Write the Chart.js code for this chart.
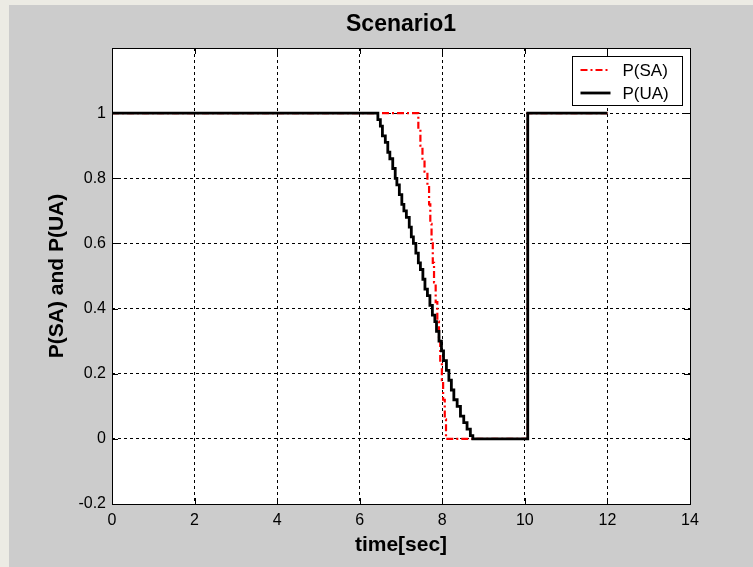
<!DOCTYPE html>
<html>
<head>
<meta charset="utf-8">
<style>
  html, body { margin: 0; padding: 0; background: #ecebe4; }
  canvas { display: block; }
</style>
<script src="https://cdn.jsdelivr.net/npm/chart.js@4/dist/chart.umd.min.js"></script>
</head>
<body>
<canvas id="c" width="753" height="567"></canvas>
<script>
// Probability of SA: held value starting at each time instant (step function)
const timeSA = [0, 7.42, 7.47, 7.52, 7.57, 7.64, 7.68, 7.71, 7.74, 7.77, 7.80, 7.84, 7.88, 7.92, 7.95, 7.99, 8.02, 8.06, 8.09, 10.07, 12.0];
const valuesSA = [1, 0.95, 0.90, 0.86, 0.82, 0.78, 0.72, 0.66, 0.60, 0.54, 0.48, 0.42, 0.36, 0.30, 0.24, 0.18, 0.12, 0.06, 0, 1, 1];

// Probability of UA
const timeUA = [0, 6.44, 6.50, 6.55, 6.62, 6.68, 6.73, 6.80, 6.86, 6.90, 6.96, 7.02, 7.07, 7.13, 7.20, 7.25, 7.30, 7.36, 7.42, 7.47, 7.53, 7.58, 7.64, 7.70, 7.76, 7.82, 7.86, 7.92, 7.98, 8.03, 8.10, 8.16, 8.22, 8.28, 8.36, 8.44, 8.52, 8.60, 8.68, 8.74, 10.07, 12.0];
const valuesUA = [1, 0.98, 0.96, 0.93, 0.91, 0.88, 0.86, 0.83, 0.80, 0.78, 0.75, 0.72, 0.70, 0.68, 0.65, 0.62, 0.60, 0.57, 0.54, 0.52, 0.49, 0.46, 0.44, 0.41, 0.38, 0.36, 0.33, 0.30, 0.27, 0.24, 0.21, 0.18, 0.15, 0.12, 0.10, 0.07, 0.05, 0.03, 0.01, 0, 1, 1];

const seriesLabels = ['P(SA)', 'P(UA)'];
const xRange = [0, 14];
const yRange = [-0.2, 1.2];

const toPoints = (xs, ys) => xs.map((x, i) => ({ x: x, y: ys[i] }));

// Figure background, white plot area
const backgroundPlugin = {
  id: 'figureBackground',
  beforeDraw(chart) {
    const ctx = chart.ctx;
    const a = chart.chartArea;
    ctx.save();
    ctx.fillStyle = '#ecebe4';
    ctx.fillRect(0, 0, chart.width, chart.height);
    ctx.fillStyle = '#cccccc';
    ctx.fillRect(9, 5, chart.width - 9, chart.height - 5);
    ctx.fillStyle = '#ffffff';
    ctx.fillRect(a.left, a.top, a.right - a.left, a.bottom - a.top);
    ctx.restore();
  }
};

// Solid axes box with inward tick marks on all four sides, plus boxed legend
const frameAndLegendPlugin = {
  id: 'frameAndLegend',
  afterDatasetsDraw(chart) {
    const ctx = chart.ctx;
    const a = chart.chartArea;
    const xs = chart.scales.x;
    const ys = chart.scales.y;
    const tl = 6;
    ctx.save();
    ctx.setLineDash([]);
    ctx.strokeStyle = '#000';
    ctx.lineWidth = 1;
    ctx.beginPath();
    xs.ticks.forEach(t => {
      const px = Math.round(xs.getPixelForValue(t.value)) + 0.5;
      ctx.moveTo(px, a.bottom); ctx.lineTo(px, a.bottom - tl);
      ctx.moveTo(px, a.top); ctx.lineTo(px, a.top + tl);
    });
    ys.ticks.forEach(t => {
      const py = Math.round(ys.getPixelForValue(t.value)) + 0.5;
      ctx.moveTo(a.left, py); ctx.lineTo(a.left + tl, py);
      ctx.moveTo(a.right, py); ctx.lineTo(a.right - tl, py);
    });
    ctx.stroke();
    ctx.strokeRect(Math.round(a.left) + 0.5, Math.round(a.top) + 0.5,
                   Math.round(a.right - a.left), Math.round(a.bottom - a.top));

    // legend
    const bw = 110, bh = 49;
    const bx = Math.round(a.right) - 8 - bw + 0.5;
    const by = Math.round(a.top) + 8 + 0.5;
    ctx.fillStyle = '#ffffff';
    ctx.fillRect(bx, by, bw, bh);
    ctx.strokeStyle = '#000';
    ctx.lineWidth = 1;
    ctx.strokeRect(bx, by, bw, bh);
    ctx.font = '17px "Liberation Sans", Arial, sans-serif';
    ctx.textBaseline = 'middle';
    ctx.textAlign = 'left';
    const order = [0, 1];
    order.forEach((di, row) => {
      const ds = chart.data.datasets[di];
      const cy = Math.round(by + 13 + row * 23);
      ctx.strokeStyle = ds.borderColor;
      ctx.lineWidth = ds.borderWidth;
      ctx.setLineDash(ds.borderDash || []);
      ctx.beginPath();
      ctx.moveTo(bx + 8, cy);
      ctx.lineTo(bx + 38, cy);
      ctx.stroke();
      ctx.setLineDash([]);
      ctx.fillStyle = '#000';
      ctx.fillText(ds.label, bx + 50, cy + 1);
    });
    ctx.restore();
  }
};

new Chart(document.getElementById('c'), {
  type: 'line',
  data: {
    datasets: [
      {
        label: seriesLabels[0],
        data: toPoints(timeSA, valuesSA),
        borderColor: '#ff0000',
        borderWidth: 2.2,
        borderDash: [7, 3, 2, 3],
        stepped: true,
        pointRadius: 0,
        fill: false,
        order: 1
      },
      {
        label: seriesLabels[1],
        data: toPoints(timeUA, valuesUA),
        borderColor: '#000000',
        borderWidth: 2.8,
        stepped: true,
        pointRadius: 0,
        fill: false,
        order: 0
      }
    ]
  },
  options: {
    responsive: false,
    animation: false,
    events: [],
    layout: { padding: { left: 0, right: 63, top: 0, bottom: 0 } },
    plugins: {
      legend: { display: false },
      tooltip: { enabled: false },
      title: {
        display: true,
        text: 'Scenario1',
        fullSize: false,
        color: '#000',
        font: { family: '"Liberation Sans", Arial, sans-serif', size: 23, weight: 'bold', lineHeight: 1.2 },
        padding: { top: 11, bottom: 9.4 }
      }
    },
    scales: {
      x: {
        type: 'linear',
        min: xRange[0],
        max: xRange[1],
        ticks: {
          stepSize: 2,
          color: '#000',
          padding: 7,
          maxRotation: 0,
          font: { family: '"Liberation Sans", Arial, sans-serif', size: 16 }
        },
        grid: { color: '#000', lineWidth: 1, drawTicks: false },
        border: { display: false, dash: [3, 3] },
        title: {
          display: true,
          text: 'time[sec]',
          color: '#000',
          font: { family: '"Liberation Sans", Arial, sans-serif', size: 21, weight: 'bold', lineHeight: 1.2 },
          padding: { top: 0, bottom: 9.4 }
        },
        afterFit(scale) { scale.height = 63; }
      },
      y: {
        type: 'linear',
        min: yRange[0],
        max: yRange[1],
        ticks: {
          stepSize: 0.2,
          color: '#000',
          padding: 6,
          font: { family: '"Liberation Sans", Arial, sans-serif', size: 16 },
          callback(v) {
            const r = Math.round(v * 10) / 10;
            if (r > 1.1) return '';
            return String(r);
          }
        },
        grid: { color: '#000', lineWidth: 1, drawTicks: false },
        border: { display: false, dash: [3, 3] },
        title: {
          display: true,
          text: 'P(SA) and P(UA)',
          color: '#000',
          font: { family: '"Liberation Sans", Arial, sans-serif', size: 21, weight: 'bold', lineHeight: 1.2 },
          padding: { top: 45, bottom: 0 }
        },
        afterFit(scale) { scale.width = 112; }
      }
    }
  },
  plugins: [backgroundPlugin, frameAndLegendPlugin]
});
</script>
</body>
</html>
